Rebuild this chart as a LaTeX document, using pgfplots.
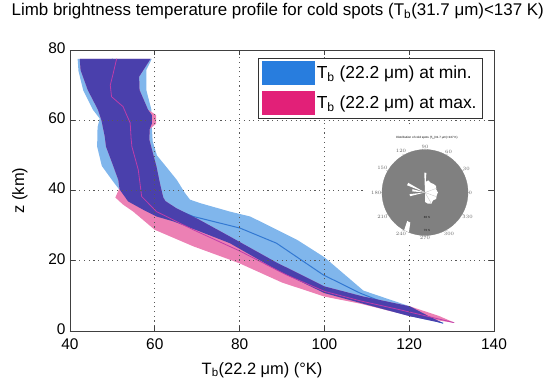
\documentclass[border=0pt]{standalone}
\usepackage{fontspec}
\setmainfont{Liberation Sans}
\usepackage{pgfplots}
\pgfplotsset{compat=1.18}
\usepgfplotslibrary{polar}
\definecolor{bandblue}{RGB}{128,182,236}
\definecolor{bandpink}{RGB}{236,128,180}
\definecolor{banddark}{RGB}{74,64,172}
\definecolor{lineblue}{RGB}{50,120,210}
\definecolor{linepink}{RGB}{190,60,170}
\definecolor{swblue}{RGB}{40,125,222}
\definecolor{swpink}{RGB}{226,32,120}
\definecolor{diskgray}{RGB}{128,128,128}
\begin{document}
\begin{tikzpicture}
\path[use as bounding box] (-70bp,-48bp) rectangle (481bp,331bp);
\begin{axis}[
  name=main, at={(0,0)}, anchor=south west,
  scale only axis, width=424bp, height=281bp,
  xmin=40, xmax=140, ymin=0, ymax=80,
  xtick={40,60,...,140}, ytick={0,20,...,80},
  xtick pos=both, ytick pos=both,
  xticklabel pos=lower, yticklabel pos=left,
  tick align=inside, major tick length=5bp,
  grid=major, grid style={dash pattern=on 1.1bp off 3.6bp, black!65, line width=0.9bp},
  axis line style={black!75, line width=0.8bp},
  tick style={black!75, line width=0.8bp},
  axis on top,
  tick label style={font=\fontsize{15.5}{15.5}\selectfont},
  xticklabel style={yshift=-4bp},
  yticklabel style={xshift=-1bp, yshift=2bp},
  /pgf/number format/assume math mode=true,
  title={Limb brightness temperature profile for cold spots (T\textsubscript{b}(31.7 μm)<137 K)},
  title style={at={(0.49,1)}, anchor=center, yshift=33bp, font=\fontsize{17}{18}\selectfont},
  xlabel={T\textsubscript{b}(22.2 μm) (°K)},
  xlabel style={at={(axis description cs:0.453,0)}, anchor=center, yshift=-39bp, font=\fontsize{16.5}{16.5}\selectfont},
  ylabel={z (km)},
  ylabel style={at={(axis description cs:-0.118,0.5)}, anchor=center, font=\fontsize{16.5}{16.5}\selectfont},
  legend style={at={(0.974,0.9715)}, anchor=north east, draw=black!80, line width=0.8bp,
    fill=white, font=\fontsize{17.5}{17.5}\selectfont, row sep=6bp, inner xsep=4bp, inner ysep=3bp},
  legend cell align=left,
]
% blue band (T_b at min.)
\addplot[fill=bandblue, draw=none, forget plot] coordinates {
(41.8,77.5) (42.0,74.0) (43.1,68.6) (45.4,63.0) (47.0,60.5) (46.5,58.0) (46.4,52.5) (47.5,47.0)
(50.2,42.5) (51.8,40.0) (53.7,36.9) (57.3,34.5) (60.4,32.6) (64.4,31.2) (70.7,28.3) (77.7,25.0)
(88.7,17.4) (100.0,10.8) (110.0,7.5) (120.2,4.2) (128.0,2.2) (124.0,4.6) (120.2,7.0) (109.2,11.5)
(100.0,21.0) (93.5,26.0) (82.5,32.6) (77.7,34.0) (70.7,36.4) (68.3,37.4) (67.1,39.3) (65.2,43.0)
(63.2,46.0) (60.5,50.0) (59.5,54.0) (59.3,58.0) (59.2,63.0) (58.0,68.6) (58.0,74.3) (59.3,77.5)};
% pink band (T_b at max.)
\addplot[fill=bandpink, draw=none, forget plot] coordinates {
(42.3,77.5) (42.5,74.3) (44.2,68.6) (46.6,63.0) (47.4,60.1) (48.2,55.4) (48.5,52.5) (50.2,47.0)
(51.4,43.0) (51.6,40.5) (50.7,38.0) (52.5,36.0) (54.9,34.0) (60.0,28.8) (69.1,24.1) (77.7,20.3)
(80.1,19.2) (90.0,13.8) (100.0,9.8) (108.4,7.8) (117.8,5.0) (120.2,4.2) (130.8,2.3) (127.0,4.3)
(120.2,7.0) (109.2,9.8) (100.0,12.7) (88.7,19.5) (77.7,26.9) (70.0,32.0) (65.0,35.0) (62.5,37.0)
(62.0,38.0) (61.6,40.0) (61.2,42.1) (60.4,46.8) (58.7,54.5) (58.8,57.5) (60.3,59.0) (60.3,61.5)
(58.4,63.0) (56.4,68.6) (56.3,72.4) (59.0,77.5)};
% blue mean line
\addplot[lineblue, line width=1bp, forget plot] coordinates {
(50,77.5) (48.5,73) (48.5,68) (51,63) (52.5,58) (53,53) (54,48) (55.5,43) (57.5,39)
(61.2,36.4) (69.1,32.6) (80.1,29.3) (88.7,25.0) (99.7,16.0) (108.4,10.8) (118,6.2) (128,2.2)};
% overlap of both bands
\addplot[fill=banddark, draw=none, forget plot] coordinates {
(42.3,77.5) (42.5,74.3) (44.2,68.6) (46.6,63.0) (47.4,60.1) (48.2,55.4) (48.5,52.5) (50.2,47.0)
(51.4,43.0) (51.7,40.3) (53.7,36.9) (57.3,34.5) (60.4,32.6) (64.4,31.2) (70.7,28.3) (77.7,25.0)
(88.7,17.4) (100.0,10.8) (110.0,7.5) (120.2,4.2) (128.0,2.2) (124.0,4.6) (120.2,7.0) (109.2,9.8)
(100.0,12.7) (88.7,19.5) (77.7,26.9) (70.0,32.0) (65.0,35.0) (62.5,37.0) (62.0,38.0) (61.6,40.0)
(61.2,42.1) (60.4,46.8) (58.7,54.5) (58.8,57.5) (59.3,59.0) (59.3,61.5) (58.4,63.0) (56.4,68.6)
(56.3,72.4) (59.0,77.5)};
% pink mean line
\addplot[linepink, line width=0.8bp, forget plot] coordinates {
(51,77.5) (50.2,73.4) (49.5,70) (49.8,66.7) (52.5,63.9) (54.2,59.2) (54.4,55) (54.6,52.5)
(56.1,45.9) (56.9,38.3) (60.4,34) (69.1,28.8) (80,22.8) (91,16) (100,11.3) (108.4,8.6)
(118,6) (130.5,2.4)};
\addlegendimage{legend image code/.code={\fill[swblue] (0bp,-11.5bp) rectangle (52bp,11.5bp);}}
\addlegendentry{T\textsubscript{b} (22.2 μm) at min.}
\addlegendimage{legend image code/.code={\fill[swpink] (0bp,-11.5bp) rectangle (52bp,11.5bp);}}
\addlegendentry{T\textsubscript{b} (22.2 μm) at max.}
\end{axis}
% inset: distribution of cold spots
\fill[white] (296bp,88bp) rectangle (418bp,204bp);
\node[font=\fontsize{3}{3.5}\selectfont] at (357bp,193bp) {Distribution of cold spots (T\textsubscript{b}(31.7 μm)<137 K)};
\fill[diskgray] (355bp,138.5bp) circle (43bp);
\begin{polaraxis}[
  at={(355bp,138.5bp)}, anchor=center,
  scale only axis, width=86bp, height=86bp,
  ymin=0, ymax=1, ytick=\empty,
  xtick={0,30,...,330},
  xticklabel style={font=\fontsize{2.2}{2.5}\selectfont, text=black!60, inner sep=0.5bp},
  axis line style={black!50, line width=0.3bp},
  major tick length=1.5bp, tick style={black!50, line width=0.3bp},
  grid=none,
]
\addplot[fill=white, draw=none] coordinates {(0,0) (86,0.46) (92,0.46) (0,0)};
\addplot[fill=white, draw=none] coordinates {(0,0) (150,0.45) (158,0.45) (0,0)};
\addplot[fill=white, draw=none] coordinates {(0,0) (165,0.30) (175,0.30) (0,0)};
\addplot[fill=white, draw=none] coordinates {(0,0) (186,0.36) (194,0.36) (0,0)};
\addplot[fill=white, draw=none] coordinates {(0,0) (-90,0.22) (-75,0.27) (-60,0.30) (-45,0.26) (-30,0.30) (-15,0.28) (0,0.30) (15,0.27) (30,0.30) (45,0.28) (60,0.26) (75,0.29) (90,0.24) (0,0)};
\addplot[draw=black!25, line width=0.3bp] coordinates {(-60,0) (-60,0.3)};
\addplot[draw=black!25, line width=0.3bp] coordinates {(-20,0) (-20,0.3)};
\addplot[draw=black!25, line width=0.3bp] coordinates {(20,0) (20,0.3)};
\addplot[fill=white, draw=none] coordinates {(238,0.78) (244,0.78) (248,1.0) (241,1.0) (238,0.78)};
\end{polaraxis}
\node[font=\fontsize{3}{3.5}\selectfont\bfseries, text=black!80] at (357bp,114bp) {80 S};
\node[font=\fontsize{3}{3.5}\selectfont\bfseries, text=black!80] at (357bp,101bp) {70 S};
\end{tikzpicture}
\end{document}
